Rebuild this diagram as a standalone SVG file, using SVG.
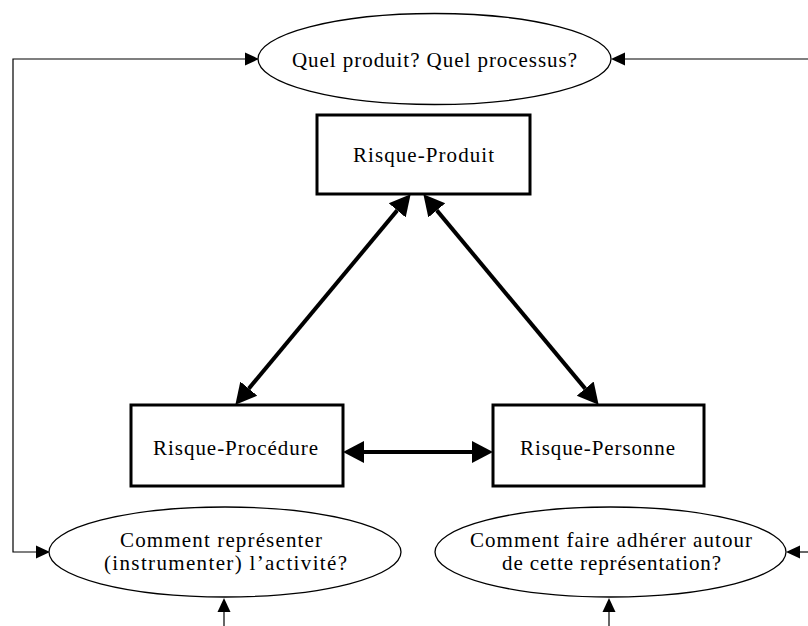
<svg xmlns="http://www.w3.org/2000/svg" width="808" height="626" viewBox="0 0 808 626">
  <style>
    .ell { fill: #fff; stroke: #000; stroke-width: 1.3; }
    .box { fill: #fff; stroke: #000; stroke-width: 3; }
    .t { font-family: "Liberation Serif", "Times New Roman", serif; font-size: 21px; fill: #000; text-anchor: middle; }
    .thin { fill: none; stroke: #000; stroke-width: 1.2; }
    .thick { fill: none; stroke: #000; stroke-width: 4; }
  </style>
  <defs>
    <marker id="ah" markerUnits="userSpaceOnUse" markerWidth="15" markerHeight="14" refX="0" refY="7" orient="auto-start-reverse">
      <path d="M0,0.5 L14,7 L0,13.5 z" fill="#000"/>
    </marker>
    <marker id="AH" markerUnits="userSpaceOnUse" markerWidth="22" markerHeight="24" refX="0" refY="12" orient="auto-start-reverse">
      <path d="M0,1 L21,12 L0,23 z" fill="#000"/>
    </marker>
  </defs>
  <rect width="808" height="626" fill="#fff"/>

  <g id="connectors">
    <path class="thin" d="M245,59 H13 V552 H36" marker-start="url(#ah)" marker-end="url(#ah)"/>
    <path class="thin" d="M808,59 H625" marker-end="url(#ah)"/>
    <path class="thin" d="M808,552 H800" marker-end="url(#ah)"/>
    <path class="thin" d="M224,626 V612" marker-end="url(#ah)"/>
    <path class="thin" d="M609,626 V612" marker-end="url(#ah)"/>
    <path class="thick" d="M248.8,388.6 L397.2,210.4" marker-start="url(#AH)" marker-end="url(#AH)"/>
    <path class="thick" d="M436.8,210.4 L585.2,388.6" marker-start="url(#AH)" marker-end="url(#AH)"/>
    <path class="thick" d="M364,452 L472,452" marker-start="url(#AH)" marker-end="url(#AH)"/>
  </g>

  <g id="q-produit">
    <ellipse class="ell" cx="434.5" cy="59" rx="176.5" ry="45.5"/>
    <text class="t" x="434.5" y="67" textLength="285" lengthAdjust="spacing">Quel produit? Quel processus?</text>
  </g>

  <g id="risque-produit">
    <rect class="box" x="317" y="115" width="213" height="79"/>
    <text class="t" x="423.5" y="162" textLength="141" lengthAdjust="spacing">Risque-Produit</text>
  </g>

  <g id="risque-procedure">
    <rect class="box" x="131" y="405" width="212" height="81"/>
    <text class="t" x="235.5" y="455" textLength="165" lengthAdjust="spacing">Risque-Procédure</text>
  </g>

  <g id="risque-personne">
    <rect class="box" x="493" y="405" width="211" height="81"/>
    <text class="t" x="597.5" y="455" textLength="155" lengthAdjust="spacing">Risque-Personne</text>
  </g>

  <g id="q-representer">
    <ellipse class="ell" cx="225" cy="552" rx="176" ry="45"/>
    <text class="t" x="221" y="547" textLength="202" lengthAdjust="spacing">Comment représenter</text>
    <text class="t" x="225.5" y="570" textLength="243" lengthAdjust="spacing">(instrumenter) l’activité?</text>
  </g>

  <g id="q-adherer">
    <ellipse class="ell" cx="610.5" cy="552" rx="175.5" ry="45"/>
    <text class="t" x="611" y="547" textLength="282" lengthAdjust="spacing">Comment faire adhérer autour</text>
    <text class="t" x="611.5" y="570" textLength="219" lengthAdjust="spacing">de cette représentation?</text>
  </g>
</svg>
